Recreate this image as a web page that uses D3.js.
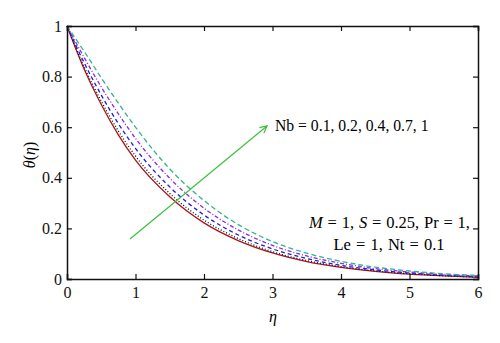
<!DOCTYPE html>
<html><head><meta charset="utf-8">
<script src="https://cdn.jsdelivr.net/npm/d3@7"></script>
<style>body{margin:0;background:#fff;} svg{display:block;font-family:"Liberation Serif","Times New Roman",serif;} svg text{font-family:"Liberation Serif","Times New Roman",serif;}</style>
</head><body><svg id="c" width="500" height="343"></svg>
<script>
const eta = [0, 0.25, 0.5, 0.75, 1, 1.5, 2, 2.5, 3, 3.5, 4, 4.5, 5, 5.5, 6];
const nbValues = ["0.1", "0.2", "0.4", "0.7", "1"];
const theta_Nb01 = [1, 0.83, 0.69, 0.57, 0.47, 0.325, 0.222, 0.152, 0.103, 0.069, 0.046, 0.03, 0.019, 0.012, 0.007];
const theta_Nb02 = [1, 0.838, 0.703, 0.585, 0.486, 0.338, 0.233, 0.160, 0.108, 0.073, 0.049, 0.032, 0.021, 0.013, 0.008];
const theta_Nb04 = [1, 0.855, 0.727, 0.614, 0.516, 0.364, 0.253, 0.174, 0.119, 0.081, 0.054, 0.036, 0.024, 0.015, 0.009];
const theta_Nb07 = [1, 0.876, 0.759, 0.653, 0.556, 0.398, 0.280, 0.194, 0.133, 0.091, 0.062, 0.041, 0.028, 0.018, 0.012];
const theta_Nb1  = [1, 0.9, 0.795, 0.695, 0.6, 0.435, 0.31, 0.215, 0.148, 0.102, 0.07, 0.047, 0.032, 0.021, 0.014];
const xTicks = [0, 1, 2, 3, 4, 5, 6];
const yTicks = [0, 0.2, 0.4, 0.6, 0.8, 1];
const arrowFrom = [0.92, 0.158];
const arrowTo = [2.92, 0.605];

const series = [
  {v: theta_Nb01, color: "#a8161c", dash: null},
  {v: theta_Nb02, color: "#111111", dash: "1,2"},
  {v: theta_Nb04, color: "#1c1ce0", dash: "4,3"},
  {v: theta_Nb07, color: "#8a2be2", dash: "4,2,1,2"},
  {v: theta_Nb1,  color: "#33b48a", dash: "5,3"}
];

const svg = d3.select("#c");
const L = 67, R = 478, T = 26, B = 279;
const x = d3.scaleLinear().domain([0, 6]).range([L, R]);
const y = d3.scaleLinear().domain([0, 1]).range([B, T]);

const line = d3.line().x((d, i) => x(eta[i])).y(d => y(d)).curve(d3.curveMonotoneX);

const g = svg.append("g");
series.forEach(s => {
  g.append("path").attr("d", line(s.v)).attr("fill", "none")
    .attr("stroke", s.color).attr("stroke-width", 1.3)
    .attr("stroke-dasharray", s.dash);
});

// axes
const fmt = d => d3.format("~g")(d);
const axB = svg.append("g").attr("transform", `translate(0,${B})`)
  .call(d3.axisBottom(x).tickValues(xTicks).tickSize(-5).tickPadding(8).tickFormat(fmt));
const axT = svg.append("g").attr("transform", `translate(0,${T})`)
  .call(d3.axisTop(x).tickValues(xTicks).tickSize(-5).tickFormat(""));
const axL = svg.append("g").attr("transform", `translate(${L},0)`)
  .call(d3.axisLeft(y).tickValues(yTicks).tickSize(-5).tickPadding(5).tickFormat(fmt));
const axR = svg.append("g").attr("transform", `translate(${R},0)`)
  .call(d3.axisRight(y).tickValues(yTicks).tickSize(-5).tickFormat(""));
[axB, axT, axL, axR].forEach(a => {
  a.attr("font-family", "Liberation Serif").attr("font-size", 16);
  a.select(".domain").attr("stroke", "#111").attr("stroke-width", 1.5);
  a.selectAll(".tick line").attr("stroke", "#111").attr("stroke-width", 1.2);
  a.selectAll("text").attr("font-size", 16).attr("fill", "#111");
});

// axis labels
svg.append("text").attr("x", (L + R) / 2 + 0.5).attr("y", 322).attr("text-anchor", "middle")
  .attr("font-size", 16).attr("font-style", "italic").text("η");
const yl = svg.append("text").attr("transform", "translate(35,155) rotate(-90)")
  .attr("text-anchor", "middle").attr("font-size", 16);
yl.append("tspan").attr("font-style", "italic").text("θ");
yl.append("tspan").text("(");
yl.append("tspan").attr("font-style", "italic").text("η");
yl.append("tspan").text(")");

// arrow
svg.append("defs").append("marker").attr("id", "ah").attr("viewBox", "-8 -5 10 10")
  .attr("refX", 0).attr("refY", 0).attr("markerWidth", 10).attr("markerHeight", 10)
  .attr("markerUnits", "userSpaceOnUse").attr("orient", "auto")
  .append("path").attr("d", "M-7,-3.5L0,0L-7,3.5").attr("fill", "none")
  .attr("stroke", "#3cbf3c").attr("stroke-width", 1.2);
svg.append("line").attr("x1", x(arrowFrom[0])).attr("y1", y(arrowFrom[1]))
  .attr("x2", x(arrowTo[0])).attr("y2", y(arrowTo[1]))
  .attr("stroke", "#3cbf3c").attr("stroke-width", 1.2).attr("marker-end", "url(#ah)");

// annotations
svg.append("text").attr("x", 275).attr("y", 131).attr("font-size", 15.7)
  .text("Nb = " + nbValues.join(", "));
const t2 = svg.append("text").attr("x", 389.5).attr("y", 228).attr("text-anchor", "middle")
  .attr("font-size", 16.5).attr("word-spacing", 0.7);
t2.append("tspan").attr("font-style", "italic").text("M");
t2.append("tspan").text(" = 1, ");
t2.append("tspan").attr("font-style", "italic").text("S");
t2.append("tspan").text(" = 0.25, Pr = 1,");
svg.append("text").attr("x", 389).attr("y", 250).attr("text-anchor", "middle")
  .attr("font-size", 16.5).attr("word-spacing", 1)
  .text("Le = 1, Nt = 0.1");
</script></body></html>
